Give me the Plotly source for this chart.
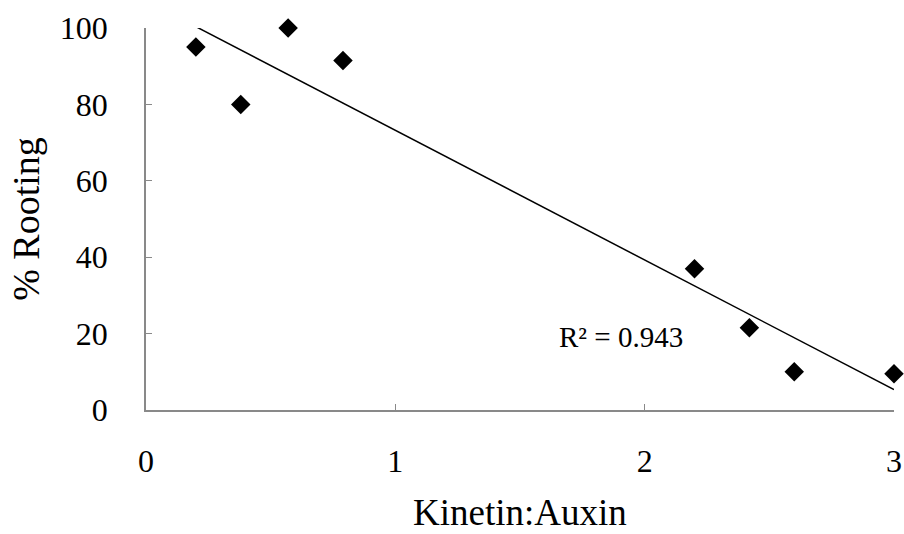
import numpy as np
import plotly.graph_objects as go

# Kinetin:Auxin ratio vs. percentage of cuttings rooted
ratio = [0.2, 0.38, 0.57, 0.79, 2.2, 2.42, 2.6, 3.0]
rooting = [95, 80, 100, 91.5, 37, 21.5, 10, 9.5]
r2_label = "R² = 0.943"

x_ticks = [0, 1, 2, 3]
y_ticks = [0, 20, 40, 60, 80, 100]

# Linear trendline through the observations
slope, intercept = np.polyfit(ratio, rooting, 1)
trend_x = [min(ratio), max(ratio)]
trend_y = [slope * v + intercept for v in trend_x]

font_family = "Liberation Serif, Times New Roman, serif"
axis_grey = "#898989"

fig = go.Figure()
fig.add_trace(go.Scatter(
    x=trend_x, y=trend_y, mode="lines",
    line=dict(color="black", width=1.5),
    hoverinfo="skip", showlegend=False, cliponaxis=False,
))
fig.add_trace(go.Scatter(
    x=ratio, y=rooting, mode="markers",
    marker=dict(symbol="diamond", size=15, color="black"),
    showlegend=False, cliponaxis=False,
))

fig.add_annotation(
    x=1.905, y=19.0, xref="x", yref="y", text=r2_label, showarrow=False,
    font=dict(family=font_family, size=29, color="black"),
)

fig.update_layout(
    width=904, height=534,
    margin=dict(l=146, r=10, t=28, b=124),
    paper_bgcolor="white", plot_bgcolor="white",
    font=dict(family=font_family, color="black"),
)
fig.update_xaxes(
    range=[0, 3], tickvals=x_ticks, ticktext=[str(v) for v in x_ticks],
    showgrid=False, zeroline=False, automargin=False,
    showline=True, linecolor=axis_grey, linewidth=1.5,
    ticks="inside", ticklen=6, tickwidth=1.2, tickcolor=axis_grey,
    tickfont=dict(size=32, family=font_family), ticklabelstandoff=22,
    title=dict(text="Kinetin:Auxin", font=dict(size=37, family=font_family), standoff=21),
)
fig.update_yaxes(
    range=[0, 100], tickvals=y_ticks, ticktext=[str(v) for v in y_ticks],
    showgrid=False, zeroline=False, automargin=False,
    showline=True, linecolor=axis_grey, linewidth=1.5,
    ticks="inside", ticklen=6, tickwidth=1.2, tickcolor=axis_grey,
    tickfont=dict(size=32, family=font_family), ticklabelstandoff=30,
    title=dict(text="% Rooting", font=dict(size=38, family=font_family), standoff=9),
)

fig.write_html("out.html")
